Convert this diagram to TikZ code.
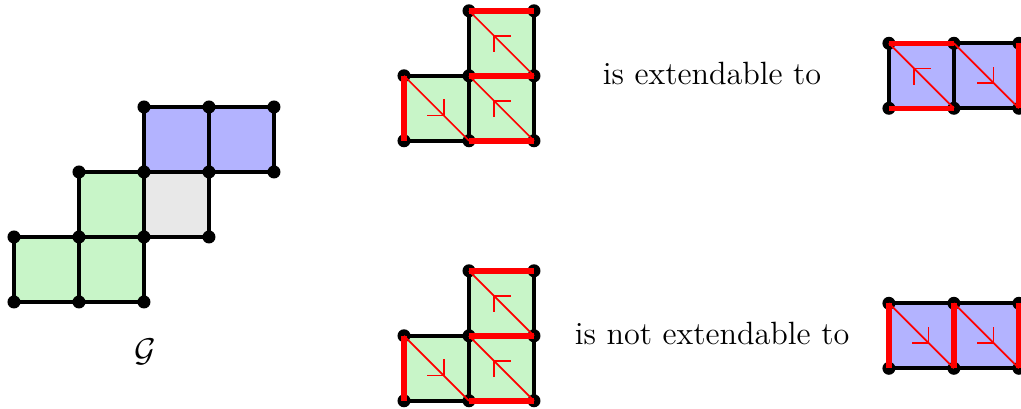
\documentclass[tikz,border=0pt]{standalone}
\usepackage{amsmath}
\definecolor{cellgreen}{RGB}{200,245,200}
\definecolor{cellblue}{RGB}{179,179,255}
\definecolor{cellgray}{RGB}{232,232,232}
\tikzset{
  edge/.style={line width=1.8pt,black},
  redge/.style={line width=2.4pt,red},
  diagline/.style={line width=0.75pt,red},
  dot/.style={fill=black},
  lbl/.style={font=\fontsize{14.1}{16}\selectfont,inner sep=0pt}
}
\newcommand{\cellfill}[3]{%
  % x, y of lower left corner, fill colour
  \fill[#3] (#1,#2) rectangle ++(10,10);
  \draw[edge] (#1,#2) rectangle ++(10,10);
}
\newcommand{\celldiag}[3]{%
  % x, y of lower left corner, direction (1 = down-right, -1 = up-left)
  \draw[diagline] ({#1},{#2+10}) -- ++(10,-10);
  \draw[diagline,line join=miter] ({#1+5+1.1*#3-2.5*#3},{#2+5-1.1*#3}) -- ++({2.5*#3},0) -- ++(0,{2.5*#3});
}
\newcommand{\vertdots}[1]{%
  \foreach \p in {#1}{\fill[dot] \p circle (1.0);}
}
\begin{document}
\begin{tikzpicture}[x=1mm,y=1mm]
  \useasboundingbox (-2.15,-16.46) rectangle (154.92,46.46);
  \clip (-2.15,-16.46) rectangle (154.92,46.46);

  % the graph G
  \foreach \x/\y/\c in {0/0/cellgreen,10/0/cellgreen,10/10/cellgreen,20/10/cellgray,20/20/cellblue,30/20/cellblue}{
    \cellfill{\x}{\y}{\c}
  }
  \vertdots{(0,0),(10,0),(20,0),(0,10),(10,10),(20,10),(30,10),(10,20),(20,20),(30,20),(40,20),(20,30),(30,30),(40,30)}
  \node[lbl] (gname) at (20.15,-7.7) {$\mathcal{G}$};

  % L-shapes in the middle
  \foreach \yo in {24.8,-15.2}{
    \foreach \x/\y in {60/0,70/0,70/10}{\cellfill{\x}{\yo+\y}{cellgreen}}
    \vertdots{(60,\yo),(70,\yo),(80,\yo),(60,\yo+10),(70,\yo+10),(80,\yo+10),(70,\yo+20),(80,\yo+20)}
    \draw[redge] (60,\yo) -- (60,\yo+10);
    \foreach \y in {0,10,20}{\draw[redge] (70,\yo+\y) -- (80,\yo+\y);}
    \celldiag{60}{\yo}{1}
    \celldiag{70}{\yo}{-1}
    \celldiag{70}{\yo+10}{-1}
  }

  \node[lbl] (ext) at (107.4,35.1) {is extendable to};
  \node[lbl] (noext) at (107.4,-4.77) {is not extendable to};

  % strips on the right
  \foreach \yo in {29.8,-10.2}{
    \foreach \x in {134.6,144.6}{\cellfill{\x}{\yo}{cellblue}}
    \vertdots{(134.6,\yo),(144.6,\yo),(154.6,\yo),(134.6,\yo+10),(144.6,\yo+10),(154.6,\yo+10)}
  }
  \draw[redge] (134.6,29.8) -- (144.6,29.8);
  \draw[redge] (134.6,39.8) -- (144.6,39.8);
  \draw[redge] (154.6,29.8) -- (154.6,39.8);
  \celldiag{134.6}{29.8}{-1}
  \celldiag{144.6}{29.8}{1}
  \foreach \x in {134.6,144.6,154.6}{\draw[redge] (\x,-10.2) -- (\x,-0.2);}
  \celldiag{134.6}{-10.2}{1}
  \celldiag{144.6}{-10.2}{1}
\end{tikzpicture}
\end{document}
